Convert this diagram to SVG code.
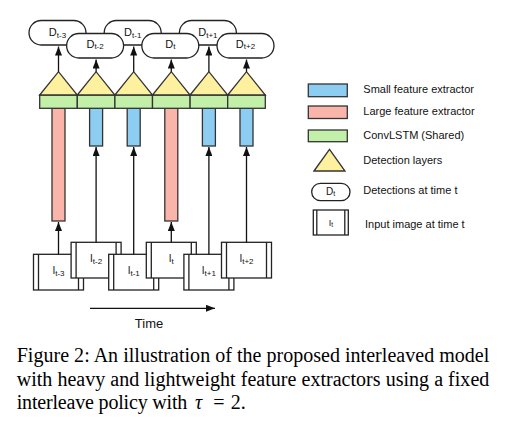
<svg xmlns="http://www.w3.org/2000/svg" width="507" height="428" viewBox="0 0 507 428">
<defs>
<style>
.bg{fill:#fff}
.sf{fill:#8ECDF2;stroke:#333;stroke-width:1.3}
.lf{fill:#FAB5AB;stroke:#333;stroke-width:1.3}
.cl{fill:#C2F0A8;stroke:#333;stroke-width:1.3}
.dl{fill:#FDF09E;stroke:#333;stroke-width:1.3;stroke-linejoin:miter}
.pill{fill:#fff;stroke:#222;stroke-width:1.3}
.frm{fill:#fff;stroke:#222;stroke-width:1.3}
.inner{stroke:#222;stroke-width:1.3;fill:none}
.con{stroke:#111;stroke-width:1.3;fill:none}
.t{font-family:"Liberation Sans",Arial,sans-serif;fill:#111}
.lbl{font-size:11px}
.pt{font-size:11px;text-anchor:middle}
.it{font-size:10px;text-anchor:middle}
.sub{font-size:8px}
.cap{font-family:"Liberation Serif","Times New Roman",serif;font-size:20px;fill:#000}
</style>
<marker id="ah" markerWidth="9" markerHeight="7" refX="9" refY="3.5" orient="auto" markerUnits="userSpaceOnUse">
<path d="M0,0 L9,3.5 L0,7 Z" fill="#111"/>
</marker>
</defs>
<rect class="bg" x="0" y="0" width="507" height="428"/>

<!-- feature extractors -->
<g id="fe0"><rect class="lf" x="52" y="108" width="13" height="113"/></g>
<g id="fe1"><rect class="sf" x="89.6" y="108" width="13" height="38"/></g>
<g id="fe2"><rect class="sf" x="127.2" y="108" width="13" height="38"/></g>
<g id="fe3"><rect class="lf" x="164.8" y="108" width="13" height="113"/></g>
<g id="fe4"><rect class="sf" x="202.4" y="108" width="13" height="38"/></g>
<g id="fe5"><rect class="sf" x="240" y="108" width="13" height="38"/></g>

<!-- ConvLSTM cells -->
<g id="lstm0"><rect class="cl" x="39.7" y="95" width="37.6" height="13.3"/></g>
<g id="lstm1"><rect class="cl" x="77.3" y="95" width="37.6" height="13.3"/></g>
<g id="lstm2"><rect class="cl" x="114.9" y="95" width="37.6" height="13.3"/></g>
<g id="lstm3"><rect class="cl" x="152.5" y="95" width="37.6" height="13.3"/></g>
<g id="lstm4"><rect class="cl" x="190.1" y="95" width="37.6" height="13.3"/></g>
<g id="lstm5"><rect class="cl" x="227.7" y="95" width="37.6" height="13.3"/></g>

<!-- detection layers -->
<g id="det0"><polygon class="dl" points="39.7,95 58.5,71.7 77.3,95"/></g>
<g id="det1"><polygon class="dl" points="77.3,95 96.1,71.7 114.9,95"/></g>
<g id="det2"><polygon class="dl" points="114.9,95 133.7,71.7 152.5,95"/></g>
<g id="det3"><polygon class="dl" points="152.5,95 171.3,71.7 190.1,95"/></g>
<g id="det4"><polygon class="dl" points="190.1,95 208.9,71.7 227.7,95"/></g>
<g id="det5"><polygon class="dl" points="227.7,95 246.5,71.7 265.3,95"/></g>

<!-- detections (top row first, lower row on top) -->
<g id="D0"><rect class="pill" x="29" y="20.5" width="57" height="24.5" rx="12.25"/><text class="t pt" x="57.5" y="36">D<tspan class="sub" dy="1.5">t-3</tspan></text></g>
<g id="D2"><rect class="pill" x="104.2" y="20.5" width="57" height="24.5" rx="12.25"/><text class="t pt" x="132.7" y="36">D<tspan class="sub" dy="1.5">t-1</tspan></text></g>
<g id="D4"><rect class="pill" x="179.4" y="20.5" width="57" height="24.5" rx="12.25"/><text class="t pt" x="207.9" y="36">D<tspan class="sub" dy="1.5">t+1</tspan></text></g>
<g id="D1"><rect class="pill" x="66.6" y="33.5" width="57" height="24.5" rx="12.25"/><text class="t pt" x="95.1" y="47.7">D<tspan class="sub" dy="1.5">t-2</tspan></text></g>
<g id="D3"><rect class="pill" x="141.8" y="33.5" width="57" height="24.5" rx="12.25"/><text class="t pt" x="170.3" y="47.7">D<tspan class="sub" dy="1.5">t</tspan></text></g>
<g id="D5"><rect class="pill" x="217" y="33.5" width="57" height="24.5" rx="12.25"/><text class="t pt" x="245.5" y="47.7">D<tspan class="sub" dy="1.5">t+2</tspan></text></g>

<!-- input frames -->
<g id="I0"><rect class="frm" x="33.5" y="254.3" width="50" height="35.7"/><path class="inner" d="M38.5,254.3V290M78.5,254.3V290"/><text class="t it" x="58.5" y="274">I<tspan class="sub" dy="1.5">t-3</tspan></text></g>
<g id="I1"><rect class="frm" x="71.1" y="242.3" width="50" height="35.7"/><path class="inner" d="M76.1,242.3V278M116.1,242.3V278"/><text class="t it" x="96.1" y="262.2">I<tspan class="sub" dy="1.5">t-2</tspan></text></g>
<g id="I2"><rect class="frm" x="108.7" y="254.3" width="50" height="35.7"/><path class="inner" d="M113.7,254.3V290M153.7,254.3V290"/><text class="t it" x="133.7" y="274">I<tspan class="sub" dy="1.5">t-1</tspan></text></g>
<g id="I3"><rect class="frm" x="146.3" y="242.3" width="50" height="35.7"/><path class="inner" d="M151.3,242.3V278M191.3,242.3V278"/><text class="t it" x="171.3" y="262.2">I<tspan class="sub" dy="1.5">t</tspan></text></g>
<g id="I4"><rect class="frm" x="183.9" y="254.3" width="50" height="35.7"/><path class="inner" d="M188.9,254.3V290M228.9,254.3V290"/><text class="t it" x="208.9" y="274">I<tspan class="sub" dy="1.5">t+1</tspan></text></g>
<g id="I5"><rect class="frm" x="221.5" y="242.3" width="50" height="35.7"/><path class="inner" d="M226.5,242.3V278M266.5,242.3V278"/><text class="t it" x="246.5" y="262.2">I<tspan class="sub" dy="1.5">t+2</tspan></text></g>

<!-- connectors -->
<g id="connectors">
<line class="con" x1="58.5" y1="71.7" x2="58.5" y2="46.5" marker-end="url(#ah)"/>
<line class="con" x1="96.1" y1="71.7" x2="96.1" y2="59.5" marker-end="url(#ah)"/>
<line class="con" x1="133.7" y1="71.7" x2="133.7" y2="46.5" marker-end="url(#ah)"/>
<line class="con" x1="171.3" y1="71.7" x2="171.3" y2="59.5" marker-end="url(#ah)"/>
<line class="con" x1="208.9" y1="71.7" x2="208.9" y2="46.5" marker-end="url(#ah)"/>
<line class="con" x1="246.5" y1="71.7" x2="246.5" y2="59.5" marker-end="url(#ah)"/>
<line class="con" x1="58.5" y1="254.3" x2="58.5" y2="222" marker-end="url(#ah)"/>
<line class="con" x1="96.1" y1="242.3" x2="96.1" y2="147" marker-end="url(#ah)"/>
<line class="con" x1="133.7" y1="254.3" x2="133.7" y2="147" marker-end="url(#ah)"/>
<line class="con" x1="171.3" y1="242.3" x2="171.3" y2="222" marker-end="url(#ah)"/>
<line class="con" x1="208.9" y1="254.3" x2="208.9" y2="147" marker-end="url(#ah)"/>
<line class="con" x1="246.5" y1="242.3" x2="246.5" y2="147" marker-end="url(#ah)"/>
<line class="con" x1="90" y1="308.3" x2="215" y2="308.3" marker-end="url(#ah)"/>
</g>
<text class="t" x="149" y="327.7" font-size="13" text-anchor="middle">Time</text>

<!-- legend -->
<g id="legend">
<rect class="sf" x="308.3" y="84" width="39" height="12.7"/>
<text class="t lbl" x="363.3" y="93.3">Small feature extractor</text>
<rect class="lf" x="308.3" y="106" width="39" height="12.5"/>
<text class="t lbl" x="363.3" y="115">Large feature extractor</text>
<rect class="cl" x="308.3" y="130" width="39" height="11.7"/>
<text class="t lbl" x="363.3" y="139.3">ConvLSTM (Shared)</text>
<polygon class="dl" points="314,171 329.5,149.3 345,171"/>
<text class="t lbl" x="363.3" y="164.3">Detection layers</text>
<rect class="pill" x="311.7" y="183.3" width="38.3" height="17.4" rx="8.7"/>
<text class="t" x="330.5" y="195" font-size="10" text-anchor="middle">D<tspan font-size="7" dy="1.3">t</tspan></text>
<text class="t lbl" x="363.3" y="194.3">Detections at time t</text>
<rect class="frm" x="313.3" y="210" width="35" height="25"/>
<path class="inner" d="M316.8,210V235M344.8,210V235"/>
<text class="t" x="330.8" y="225.5" font-size="9" text-anchor="middle">I<tspan font-size="6.5" dy="1.3">t</tspan></text>
<text class="t lbl" x="365" y="228.3">Input image at time t</text>
</g>

<!-- caption -->
<text class="cap" x="16.7" y="362" textLength="472.6" lengthAdjust="spacing">Figure 2: An illustration of the proposed interleaved model</text>
<text class="cap" x="16.7" y="385.6" textLength="472.6" lengthAdjust="spacing">with heavy and lightweight feature extractors using a fixed</text>
<text class="cap" y="409.2"><tspan x="16.7" textLength="170.6" lengthAdjust="spacing">interleave policy with</tspan><tspan font-style="italic" x="195">τ</tspan><tspan x="213.3">=</tspan><tspan x="230.7">2.</tspan></text>
</svg>
